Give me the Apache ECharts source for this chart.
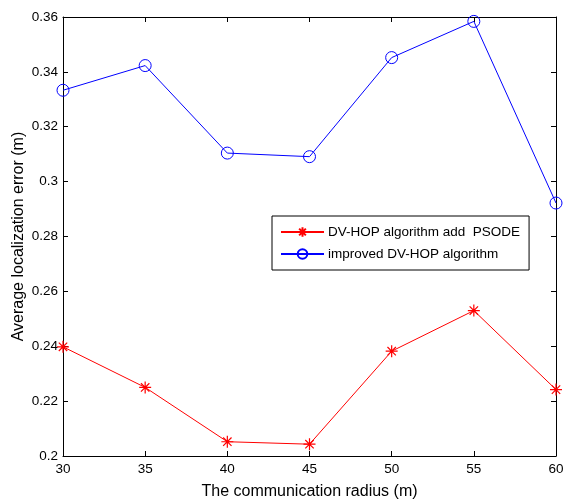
<!DOCTYPE html>
<html>
<head>
<meta charset="utf-8">
<script src="https://cdn.jsdelivr.net/npm/echarts@6/dist/echarts.min.js"></script>
<style>
  html, body { margin: 0; padding: 0; background: #fff; }
  #chart { width: 563px; height: 502px; }
</style>
</head>
<body>
<div id="chart"></div>
<script>
// communication radius (m)
const radius = [30, 35, 40, 45, 50, 55, 60];
// average localization error (m)
const psodeErr = [0.2398, 0.2250, 0.2052, 0.2043, 0.2382, 0.2530, 0.2242];
const improvedErr = [0.3333, 0.3423, 0.3104, 0.3091, 0.3452, 0.3584, 0.2922];
const seriesNames = ["DV-HOP algorithm add  PSODE", "improved DV-HOP algorithm"];

const font = "Liberation Sans, Arial, sans-serif";
const asterisk = "path://M0,-6L0,6M-6,0L6,0M-4.2,-4.2L4.2,4.2M-4.2,4.2L4.2,-4.2";

const chart = echarts.init(document.getElementById("chart"));

const fmt = v => String(+v.toFixed(2));

const boxAxis = {
  axisLine: { show: true, lineStyle: { color: "#000", width: 1 } },
  axisTick: { show: true, inside: true, length: 5, lineStyle: { color: "#000" } },
  splitLine: { show: false }
};

chart.setOption({
  animation: false,
  textStyle: { fontFamily: font },
  grid: { left: 63, right: 7, top: 17, bottom: 46, outerBoundsMode: "none", containLabel: false },
  legend: {
    orient: "vertical",
    left: 272,
    top: 216,
    itemWidth: 43,
    itemHeight: 12,
    itemGap: 8,
    padding: [9, 9, 9, 8],
    borderColor: "#000",
    borderWidth: 1,
    backgroundColor: "#fff",
    textStyle: { fontFamily: font, fontSize: 13.5, color: "#000", padding: [0, 0, 0, -1] },
    data: seriesNames
  },
  xAxis: [
    Object.assign({
      type: "value",
      min: 30, max: 60, interval: 5,
      name: "The communication radius (m)",
      nameLocation: "middle",
      nameGap: 28,
      nameMoveOverlap: false,
      nameTextStyle: { fontFamily: font, fontSize: 16, color: "#000" },
      axisLabel: { fontFamily: font, fontSize: 13.5, color: "#000", margin: 6 }
    }, boxAxis),
    Object.assign({
      type: "value", position: "top",
      min: 30, max: 60, interval: 5,
      axisLabel: { show: false }
    }, boxAxis)
  ],
  yAxis: [
    Object.assign({
      type: "value",
      min: 0.2, max: 0.36, interval: 0.02,
      name: "Average localization error (m)",
      nameLocation: "middle",
      nameGap: 36,
      nameMoveOverlap: false,
      nameTextStyle: { fontFamily: font, fontSize: 16, color: "#000" },
      axisLabel: { fontFamily: font, fontSize: 13.5, color: "#000", margin: 5, formatter: fmt }
    }, boxAxis),
    Object.assign({
      type: "value", position: "right",
      min: 0.2, max: 0.36, interval: 0.02,
      axisLabel: { show: false }
    }, boxAxis)
  ],
  series: [
    {
      name: seriesNames[0],
      type: "line",
      data: radius.map((r, i) => [r, psodeErr[i]]),
      symbol: asterisk,
      symbolSize: 12,
      lineStyle: { color: "#ff0000", width: 1 },
      itemStyle: { color: "transparent", borderColor: "#ff0000", borderWidth: 1.2 },
      z: 3
    },
    {
      name: seriesNames[1],
      type: "line",
      data: radius.map((r, i) => [r, improvedErr[i]]),
      symbol: "circle",
      symbolSize: 12,
      lineStyle: { color: "#0000ff", width: 1 },
      itemStyle: { color: "transparent", borderColor: "#0000ff", borderWidth: 1 },
      z: 3
    }
  ]
});
</script>
</body>
</html>
